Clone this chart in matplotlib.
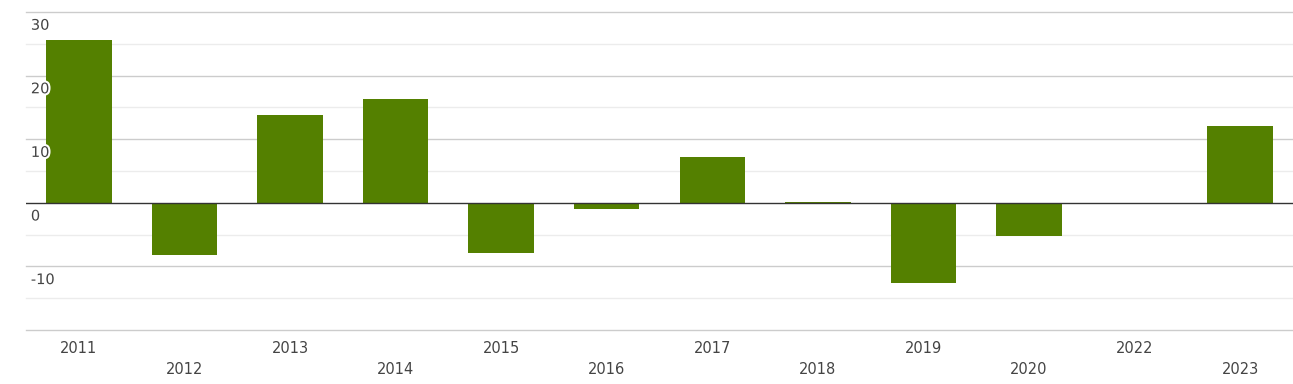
import matplotlib
matplotlib.use("Agg")
import matplotlib.pyplot as plt
import matplotlib.patheffects as pe
import numpy as np

years = ["2011", "2012", "2013", "2014", "2015", "2016", "2017", "2018",
         "2019", "2020", "2022", "2023"]
values = [25.6, -8.2, 13.8, 16.3, -7.9, -0.9, 7.2, 0.2, -12.6, -5.2, 0.0, 12.1]
major_ticks = [-10, 0, 10, 20, 30]

W, H = 1293, 384
fig = plt.figure(figsize=(W / 100, H / 100), dpi=100)
ax = fig.add_axes([26 / W, (H - 330) / H, 1 - 26 / W, (330 - 12) / H])

x = np.arange(len(years))
ax.set_xlim(-0.5, len(years) - 0.5)
ax.set_ylim(-20, 30)

# grid
for v in range(-20, 31, 5):
    if v == 0:
        continue
    col = "#cccccc" if v % 10 == 0 else "#ececec"
    ax.axhline(v, color=col, lw=1, zorder=0, clip_on=False)

ax.bar(x, values, width=0.62, color="#548000", zorder=2)
ax.axhline(0, color="#333333", lw=1, zorder=3)

for s in ax.spines.values():
    s.set_visible(False)
ax.set_yticks([])
ax.tick_params(axis="x", length=0, pad=8, labelsize=10.5, labelcolor="#444444")
ax.set_xticks(x)
ax.set_xticklabels([y if i % 2 == 0 else "\n" + y for i, y in enumerate(years)])
for lab in ax.get_xticklabels():
    lab.set_linespacing(1.45)

halo = [pe.withStroke(linewidth=3, foreground="white")]
for v in major_ticks:
    ax.annotate(str(v), xy=(0, v), xycoords=("axes fraction", "data"),
                xytext=(3.5, -9.5), textcoords="offset points",
                ha="left", va="center", fontsize=10.5, color="#444444",
                path_effects=halo, zorder=5)

fig.savefig("out.png", dpi=100)
